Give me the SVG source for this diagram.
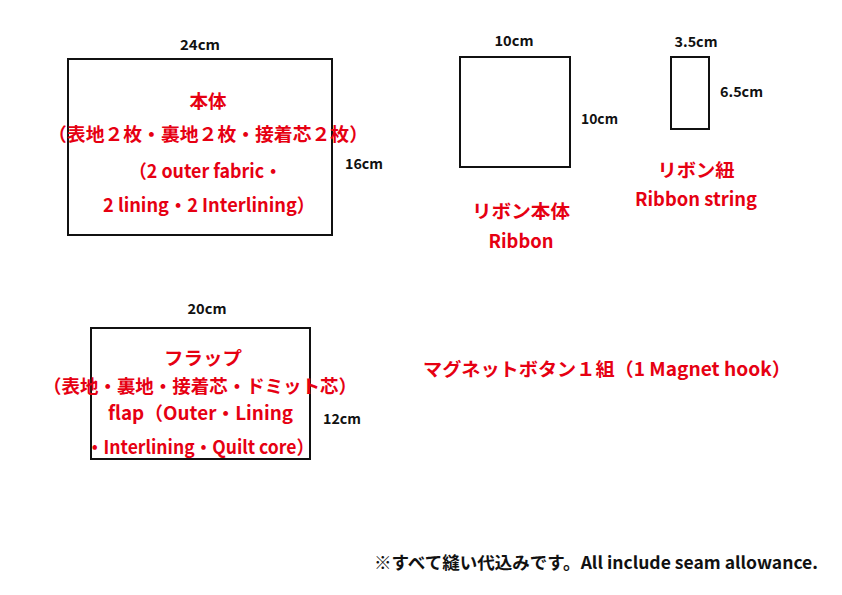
<svg xmlns="http://www.w3.org/2000/svg" width="842" height="595" viewBox="0 0 842 595">
<style>
.box{fill:none;stroke:#111;stroke-width:2}
.dim{font-family:"Noto Sans CJK JP","Noto Sans",sans-serif;font-weight:bold;font-size:14px;fill:#111}
.lbl{font-family:"Noto Sans CJK JP","Noto Sans",sans-serif;font-weight:bold;font-size:18.5px;fill:#e60012}
.note{font-family:"Noto Sans CJK JP","Noto Sans",sans-serif;font-weight:bold;font-size:17px;fill:#111}
</style>
<rect width="842" height="595" fill="#fff"/>
<g id="body">
<rect class="box" x="68" y="59" width="264" height="176"/>
<text class="dim" x="200" y="50" text-anchor="middle" textLength="40" lengthAdjust="spacingAndGlyphs">24cm</text>
<text class="dim" x="345" y="169" textLength="38" lengthAdjust="spacingAndGlyphs">16cm</text>
<text class="lbl" x="208" y="108" text-anchor="middle">本体</text>
<text class="lbl" x="48" y="141" textLength="320" lengthAdjust="spacingAndGlyphs">（表地２枚・裏地２枚・接着芯２枚）</text>
<text class="lbl" x="129" y="178" textLength="153" lengthAdjust="spacingAndGlyphs">（2 outer fabric・</text>
<text class="lbl" x="103" y="212" textLength="212" lengthAdjust="spacingAndGlyphs">2 lining・2 Interlining）</text>
</g>
<g id="ribbon">
<rect class="box" x="460" y="57" width="110" height="110"/>
<text class="dim" x="514" y="46" text-anchor="middle" textLength="39" lengthAdjust="spacingAndGlyphs">10cm</text>
<text class="dim" x="581" y="124" textLength="37" lengthAdjust="spacingAndGlyphs">10cm</text>
<text class="lbl" x="521" y="218" text-anchor="middle" textLength="98" lengthAdjust="spacingAndGlyphs">リボン本体</text>
<text class="lbl" x="521" y="248" text-anchor="middle" textLength="65" lengthAdjust="spacingAndGlyphs">Ribbon</text>
</g>
<g id="ribbon-string">
<rect class="box" x="671" y="57" width="38" height="72"/>
<text class="dim" x="696" y="47" text-anchor="middle" textLength="43" lengthAdjust="spacingAndGlyphs">3.5cm</text>
<text class="dim" x="720" y="97" textLength="43" lengthAdjust="spacingAndGlyphs">6.5cm</text>
<text class="lbl" x="696" y="177" text-anchor="middle" textLength="77" lengthAdjust="spacingAndGlyphs">リボン紐</text>
<text class="lbl" x="696" y="206" text-anchor="middle" textLength="122" lengthAdjust="spacingAndGlyphs">Ribbon string</text>
</g>
<g id="flap">
<rect class="box" x="91" y="328" width="219" height="131"/>
<text class="dim" x="207" y="314" text-anchor="middle" textLength="39" lengthAdjust="spacingAndGlyphs">20cm</text>
<text class="dim" x="323" y="424" textLength="38" lengthAdjust="spacingAndGlyphs">12cm</text>
<text class="lbl" x="203" y="365" text-anchor="middle" textLength="78" lengthAdjust="spacingAndGlyphs">フラップ</text>
<text class="lbl" x="43" y="393" textLength="314" lengthAdjust="spacingAndGlyphs">（表地・裏地・接着芯・ドミット芯）</text>
<text class="lbl" x="108" y="420" textLength="185" lengthAdjust="spacingAndGlyphs">flap（Outer・Lining</text>
<text class="lbl" x="86" y="454" textLength="228" lengthAdjust="spacingAndGlyphs">・Interlining・Quilt core）</text>
</g>
<g id="magnet">
<text class="lbl" x="423" y="376" textLength="368" lengthAdjust="spacingAndGlyphs">マグネットボタン１組（1 Magnet hook）</text>
</g>
<g id="note">
<text class="note" x="374" y="569" textLength="444" lengthAdjust="spacingAndGlyphs">※すべて縫い代込みです。All include seam allowance.</text>
</g>
<g id="connectors"></g>
</svg>
